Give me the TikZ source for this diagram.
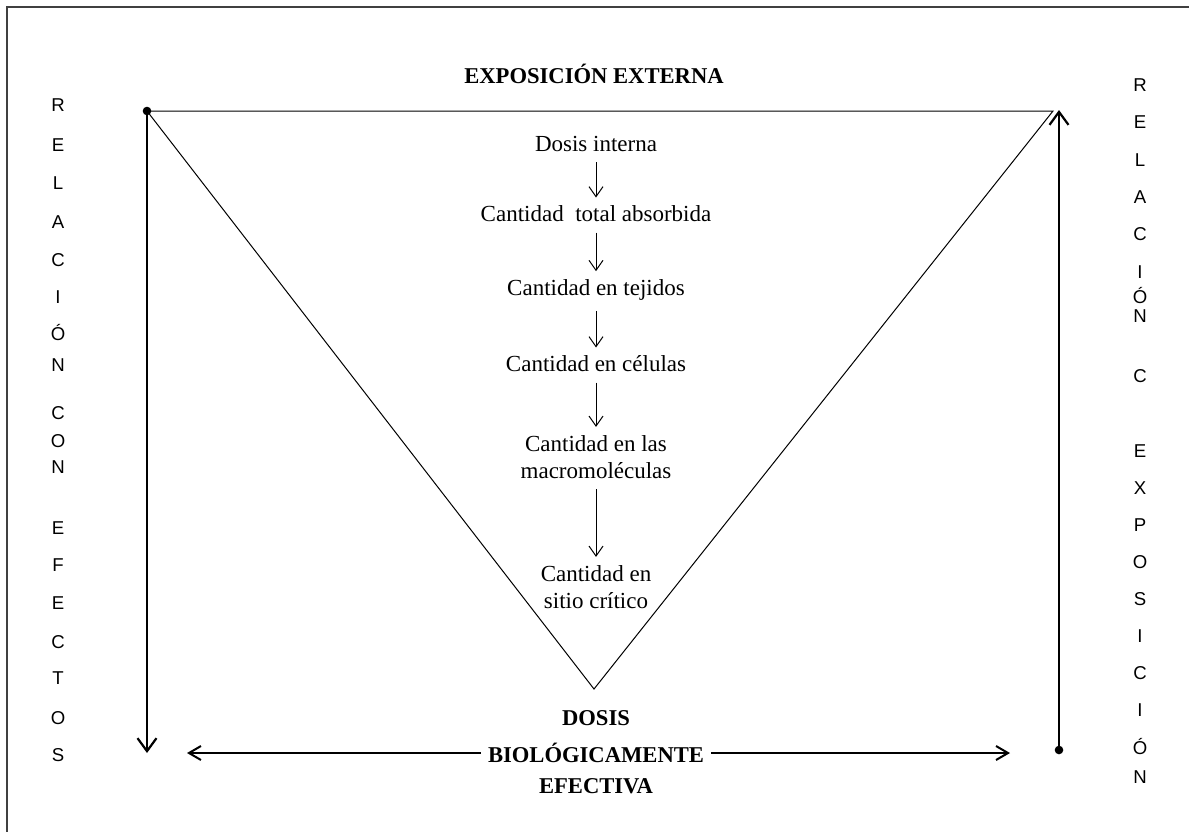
\documentclass[tikz,border=0pt]{standalone}
\usepackage{fontspec}
\setmainfont{Liberation Serif}
\newfontfamily\arialfont{Liberation Sans}
\usetikzlibrary{arrows.meta,positioning}
\tikzset{
    stage/.style =  {align=center,
                    font=\fontsize{11.5}{13.6}\selectfont,
                    inner sep=1pt},
    heading/.style = {align=center,
                    font=\fontsize{11.3}{16.8}\selectfont\bfseries,
                    inner sep=1pt},
    letter/.style = {font=\arialfont\fontsize{9.3}{11}\selectfont,
                    inner sep=0pt},
    flow/.style =   {line width=0.5pt,
                    -{Straight Barb[length=5pt,width=7pt]},
                    shorten >= 3pt,
                    shorten <= 4pt},
    axis/.style =   {line width=1.3pt,
                    -{Straight Barb[length=6.5pt,width=9.5pt,line width=1.1pt]}},
    span/.style =   {line width=1pt,
                    -{Straight Barb[length=6pt,width=7pt,line width=1pt]},
                    shorten <= 2.5pt},
    cone/.style =   {line width=0.5pt},
    frame/.style =  {line width=0.8pt, draw=black!75}
}
\begin{document}
\begin{tikzpicture}[x=0.5pt,y=-0.5pt]
    \useasboundingbox (0,0) rectangle (1189,832);
    % frame
    \draw[frame] (1189,7) -- (7,7) -- (7,832);
    % triangle
    \coordinate (TL) at (147,111);
    \coordinate (TR) at (1053,111);
    \coordinate (apex) at (594,689);
    \draw[cone] (TL) -- (TR) -- (apex) -- cycle;
    \fill (TL) circle (4.3);
    % side arrows
    \coordinate (Lbot) at (147,753);
    \coordinate (Rtop) at (1059,110);
    \coordinate (Rbot) at (1059,750);
    \draw[axis] (TL) -- (Lbot);
    \draw[axis] (Rbot) -- (Rtop);
    \fill (Rbot) circle (4.3);
    % titles
    \node[heading] (ext) at (594,74) {EXPOSICIÓN EXTERNA};
    \node[heading] (dosis) at (596,718) {DOSIS};
    \node[heading] (bio) at (596,753) {BIOLÓGICAMENTE};
    \node[heading] (efec) at (596,786) {EFECTIVA};
    \coordinate (Bleft) at (187,753);
    \coordinate (Bright) at (1010,753);
    \draw[span] (bio.west) -- (Bleft);
    \draw[span] (bio.east) -- (Bright);
    % stages
    \node[stage] (s1) at (596,144) {Dosis interna};
    \node[stage] (s2) at (596,214) {Cantidad\ \ total absorbida};
    \node[stage] (s3) at (596,290) {Cantidad en tejidos};
    \node[stage] (s4) at (596,364) {Cantidad en células};
    \node[stage] (s5) at (596,457) {Cantidad en las\\macromoléculas};
    \node[stage] (s6) at (596,587) {Cantidad en\\sitio crítico};
    \foreach \a/\b in {s1/s2,s2/s3,s3/s4,s4/s5,s5/s6}
        \draw[flow] (\a) -- (\b);
    % vertical words
    \foreach \ch/\yy [count=\i] in {R/105,E/145,L/183,A/222,C/260,I/297,Ó/333,N/365,
        C/413,O/441,N/467,E/528,F/565,E/603,C/642,T/678,O/718,S/755}
        \node[letter] (left\i) at (58,\yy) {\ch};
    \foreach \ch/\yy [count=\i] in {R/85,E/122,L/160,A/197,C/234,I/272,Ó/296,N/316,
        C/376,E/451,X/488,P/525,O/562,S/599,I/636,C/673,I/710,Ó/747,N/777}
        \node[letter] (right\i) at (1140,\yy) {\ch};
\end{tikzpicture}
\end{document}
